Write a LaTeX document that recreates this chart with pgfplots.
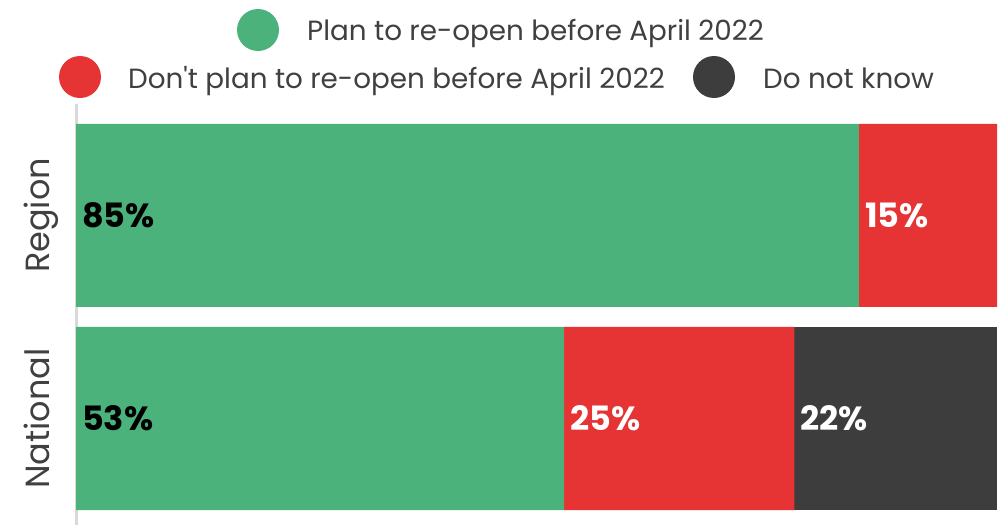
\documentclass[border=0pt]{standalone}
\usepackage{pgfplots}
\pgfplotsset{compat=1.18}
\usepackage{fontspec}
\setmainfont{Poppins}
\definecolor{cgreen}{HTML}{4AB27A}
\definecolor{cred}{HTML}{E63333}
\definecolor{cdark}{HTML}{3D3D3D}
\definecolor{ctext}{HTML}{404040}
\definecolor{caxis}{HTML}{D9D9D9}
\begin{document}
\begin{tikzpicture}[x=1pt,y=1pt]
\path[use as bounding box] (0,0) rectangle (1006,-525);
\pgfplotsset{base/.style={scale only axis, width=921pt, height=421pt,
  at={(76pt,-525pt)}, anchor=south west,
  xmin=0, xmax=100, ymin=-0.5246, ymax=1.549}}
\begin{axis}[base, xbar stacked, bar width=183pt,
  axis x line=none, axis y line*=left,
  y axis line style={caxis, line width=3pt, -},
  ytick={0,1}, yticklabels={National,Region}, major tick length=0pt,
  yticklabel style={font=\fontsize{33.5}{33.5}\selectfont, text=ctext, xshift=-27pt, rotate=90, anchor=base}]
\addplot[fill=cgreen, draw=none] coordinates {(85,1) (53,0)};
\addplot[fill=cred, draw=none] coordinates {(15,1) (25,0)};
\addplot[fill=cdark, draw=none] coordinates {(0,1) (22,0)};
\end{axis}
\begin{axis}[base, hide axis, point meta=explicit symbolic,
  nodes near coords={\pgfplotspointmeta\%},
  every node near coord/.append style={anchor=west, inner sep=0pt, xshift=6pt,
    font=\bfseries\fontsize{33.5}{33.5}\selectfont}]
\addplot[only marks, mark=none, every node near coord/.append style={text=black}]
  table[meta=m] {
x y m
0 1 85
0 0 53
};
\addplot[only marks, mark=none, every node near coord/.append style={text=white}]
  table[meta=m] {
x y m
85 1 15
53 0 25
78 0 22
};
\end{axis}
\begin{scope}[every node/.style={anchor=base west, inner sep=0pt, text=ctext, font=\fontsize{27.8}{27.8}\selectfont}]
\fill[cgreen] (258,-30) circle (21);
\node at (307,-40) {Plan to re-open before April 2022};
\fill[cred] (80,-77) circle (21);
\node at (128,-88) {Don\textquotesingle t plan to re-open before April 2022};
\fill[cdark] (714,-77) circle (21);
\node at (763,-88) {Do not know};
\end{scope}
\end{tikzpicture}
\end{document}
